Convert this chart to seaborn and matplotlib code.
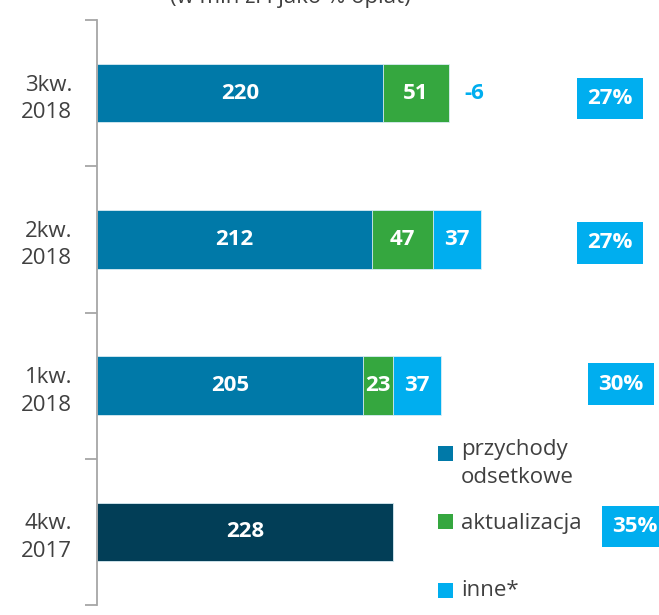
import matplotlib
matplotlib.use("Agg")
import matplotlib.pyplot as plt
import seaborn as sns
import pandas as pd
from matplotlib.patches import Rectangle

# dane (w mln zł)
kwartaly = ["3kw.\n2018", "2kw.\n2018", "1kw.\n2018", "4kw.\n2017"]
przychody = [220, 212, 205, 228]
aktualizacja = [51, 47, 23, 0]
inne = [-6, 37, 37, 0]
procent = [27, 27, 30, 35]

c_blue = "#0079A8"
c_dark = "#023E57"
c_green = "#35A73F"
c_light = "#00AEEF"

df = pd.DataFrame({"kw": kwartaly, "przych": przychody, "akt": aktualizacja, "inne": inne})
df["s1"] = df["przych"]
df["s2"] = df["przych"] + df["akt"]
df["s3"] = df["s2"] + df["inne"]

sns.set_style("white")
plt.rcParams["font.family"] = ["Open Sans", "DejaVu Sans"]

fig = plt.figure(figsize=(6.59, 6.15), dpi=100)
ax = fig.add_axes([97 / 659, 1 - 605 / 615, 1 - 97 / 659, 585 / 615])

# nakładane słupki (od najdłuższego)
kw = dict(width=0.4, orient="h", edgecolor="#DDEEF5", linewidth=0.6, saturation=1, ax=ax)
sns.barplot(data=df, y="kw", x="s3", color=c_light, **kw)
sns.barplot(data=df, y="kw", x="s2", color=c_green, **kw)
sns.barplot(data=df, y="kw", x="s1", hue="kw", palette=[c_blue, c_blue, c_blue, c_dark],
            legend=False, **kw)

ax.set_xlim(0, 433)
ax.set_ylim(3.5, -0.5)
ax.set_xlabel("")
ax.set_ylabel("")
ax.set_xticks([])

lab = dict(color="white", fontsize=16, fontweight="bold", ha="center", va="center")
for i in range(len(kwartaly)):
    ax.text(przychody[i] / 2, i, str(przychody[i]), **lab)
    if aktualizacja[i] > 0:
        ax.text(przychody[i] + aktualizacja[i] / 2, i, str(aktualizacja[i]), **lab)
    if inne[i] > 0:
        ax.text(przychody[i] + aktualizacja[i] + inne[i] / 2, i, str(inne[i]), **lab)
    elif inne[i] < 0:
        ax.text(przychody[i] + aktualizacja[i] + 12, i, str(inne[i]), color=c_light,
                fontsize=16, fontweight="bold", ha="left", va="center")

# % opłat (ramki obok słupków)
pct_x = [395.5, 395.5, 403.5, 414.5]
pct_dy = [0.038, 0.024, -0.01, -0.038]
for i, p in enumerate(procent):
    ax.text(pct_x[i], i + pct_dy[i], f"{p}%", color="white", fontsize=16, fontweight="bold",
            ha="center", va="center", clip_on=False,
            bbox=dict(boxstyle="square,pad=0.46", fc=c_light, ec="none"))

# oś
for s in ["top", "right", "bottom"]:
    ax.spines[s].set_visible(False)
ax.spines["left"].set_color("#A6A6A6")
ax.spines["left"].set_linewidth(1.3)
ax.set_yticks(range(4))
ax.set_yticklabels(kwartaly, fontsize=16, color="#404040", linespacing=1.4)
ax.tick_params(axis="y", which="major", left=False, length=0, pad=18)
ax.set_yticks([-0.5, 0.5, 1.5, 2.5, 3.5], minor=True)
ax.tick_params(axis="y", which="minor", left=True, length=9, width=1.3,
               color="#A6A6A6", direction="out")

# legenda
leg = [(c_blue, "przychody\nodsetkowe", 453, 455), (c_green, "aktualizacja", 521, 523),
       (c_light, "inne*", 590, 590)]
for col, txt, ysq, ytx in leg:
    fig.patches.append(Rectangle((438 / 659, 1 - (ysq + 7.5) / 615), 15 / 659, 15 / 615,
                                 transform=fig.transFigure, fc=col, ec="none"))
    if "\n" in txt:
        fig.text(461 / 659, 1 - (ytx - 16) / 615, txt, fontsize=16, color="#404040",
                 ha="left", va="top", linespacing=1.45)
    else:
        fig.text(461 / 659, 1 - ytx / 615, txt, fontsize=16, color="#404040",
                 ha="left", va="center")

fig.text(0.44, 1 - 3 / 615, "(w mln zł i jako % opłat)", fontsize=16, color="#404040",
         ha="center", va="baseline")

fig.savefig("out.png", dpi=100)
